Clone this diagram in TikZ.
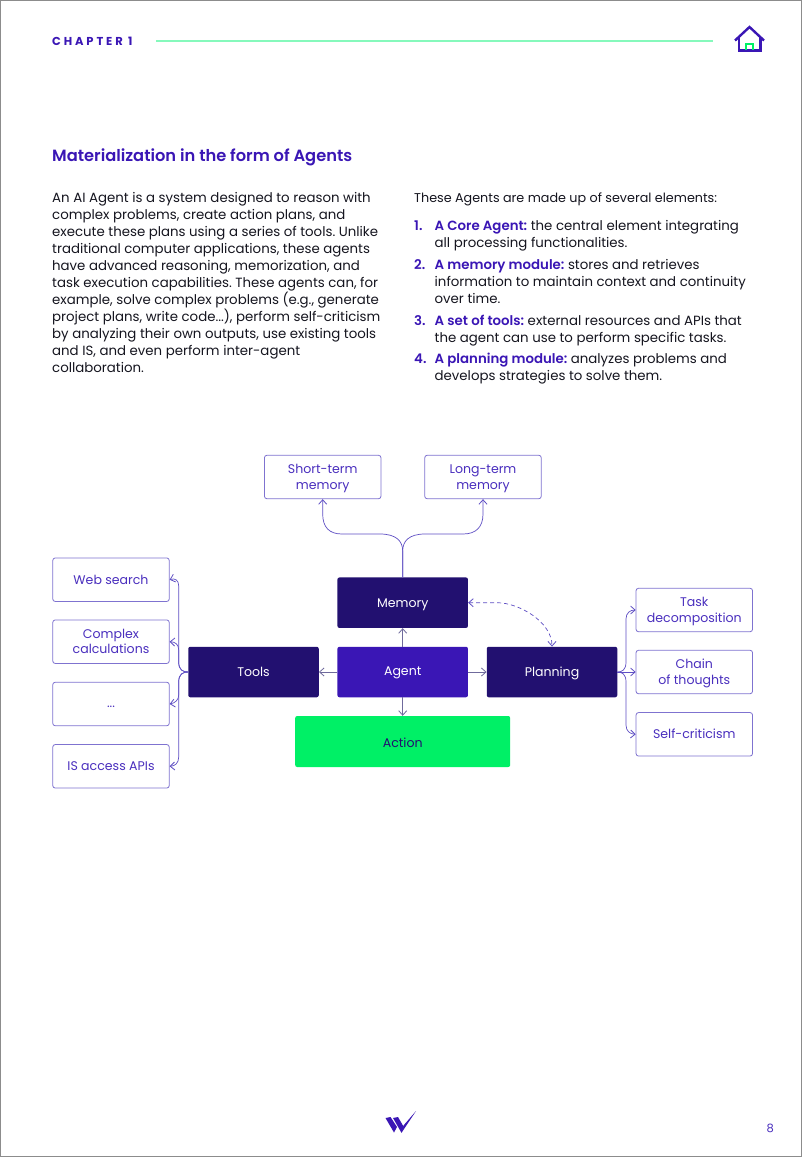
\documentclass[tikz,border=0pt]{standalone}
\usepackage{fontspec}
\setmainfont{Poppins}[BoldFont={Poppins SemiBold}]
\newfontfamily\chapfont{Poppins}[BoldFont={Poppins Bold},LetterSpace=25]
\usetikzlibrary{arrows.meta}
\frenchspacing
\definecolor{vio}{HTML}{3A16B5}
\definecolor{navy}{HTML}{221070}
\definecolor{grn}{HTML}{00F066}
\definecolor{lgrn}{HTML}{86F9BC}
\definecolor{lnk}{HTML}{5F4FC4}
\definecolor{lnkg}{HTML}{6F6A9C}
\definecolor{bord}{HTML}{7F73D0}
\definecolor{lbl}{HTML}{4A2FBE}
\definecolor{bodyc}{HTML}{15151F}
\tikzset{
  body/.style={anchor=base west,inner sep=0pt,text=bodyc,font=\fontsize{13.33}{17}\selectfont},
  num/.style={anchor=base west,inner sep=0pt,text=vio,font=\fontsize{13.33}{17}\selectfont\bfseries},
  lightbox/.style={draw=bord,line width=0.8pt,rounded corners=2.5pt,fill=white,text=lbl,align=center,font=\fontsize{12.55}{15.2}\selectfont,inner sep=0pt,minimum width=116.5pt,minimum height=43.5pt},
  darkbox/.style={fill=navy,rounded corners=2pt,text=white,align=center,font=\fontsize{12.55}{15.2}\selectfont,inner sep=0pt,minimum width=130.5pt,minimum height=50.5pt},
  link/.style={draw=lnk,line width=0.7pt},
  tip/.style={-{Straight Barb[length=4.5pt,width=8pt,line width=0.8pt]}},
}
\newcommand{\hl}[1]{\textcolor{vio}{\textbf{#1}}}
\newcommand{\lab}[2][-1.4pt]{\raisebox{#1}[\height][\depth]{\begin{tabular}{@{}c@{}}#2\end{tabular}}}
\begin{document}
\begin{tikzpicture}[x=1pt,y=-1pt]
\useasboundingbox (0,0) rectangle (802,1157);
\draw[draw=gray!90,line width=1.5pt,fill=white] (0.5,0.5) rectangle (801.5,1156.5);
% header
\node[anchor=base west,inner sep=0pt,text=vio,font=\fontsize{11.5}{13}\selectfont\chapfont\bfseries] (chap) at (52,45.5) {CHAPTER 1};
\coordinate (ruleL) at (156,41); \coordinate (ruleR) at (713,41);
\draw[lgrn,line width=1.1pt] (ruleL) -- (ruleR);
\draw[vio,line width=2.4pt,line join=miter] (735,40.5) -- (749.5,27) -- (764,40.5);
\draw[vio,line width=2.4pt] (738.7,36.5) -- (738.7,50.5) -- (760.3,50.5) -- (760.3,36.5);
\draw[grn,line width=2pt] (746.3,50) -- (746.3,43.5) -- (752.7,43.5) -- (752.7,50);
% heading
\node[anchor=base west,inner sep=0pt,text=vio,font=\fontsize{16.27}{20}\selectfont\bfseries] (head) at (52,161.5) {Materialization in the form of Agents};
% left column
\node[body] (l1) at (52,202) {An AI Agent is a system designed to reason with};
\node[body] (l2) at (52,219) {complex problems, create action plans, and};
\node[body] (l3) at (52,236) {execute these plans using a series of tools. Unlike};
\node[body] (l4) at (52,253) {traditional computer applications, these agents};
\node[body] (l5) at (52,270) {have advanced reasoning, memorization, and};
\node[body] (l6) at (52,287) {task execution capabilities. These agents can, for};
\node[body] (l7) at (52,304) {example, solve complex problems (e.g., generate};
\node[body] (l8) at (52,321) {project plans, write code...), perform self-criticism};
\node[body] (l9) at (52,338) {by analyzing their own outputs, use existing tools};
\node[body] (l10) at (52,355) {and IS, and even perform inter-agent};
\node[body] (l11) at (52,372) {collaboration.};
% right column
\node[body,font=\fontsize{12.75}{17}\selectfont] (r0) at (414,202) {These Agents are made up of several elements:};
\node[num] (n1) at (414,230.5) {1.};
\node[body] (r1) at (434.5,230.5) {\hl{A Core Agent:} the central element integrating};
\node[body] (r2) at (434.5,247.5) {all processing functionalities.};
\node[num] (n2) at (414,269) {2.};
\node[body] (r3) at (434.5,269) {\hl{A memory module:} stores and retrieves};
\node[body] (r4) at (434.5,286) {information to maintain context and continuity};
\node[body] (r5) at (434.5,303) {over time.};
\node[num] (n3) at (414,325) {3.};
\node[body] (r6) at (434.5,325) {\hl{A set of tools:} external resources and APIs that};
\node[body] (r7) at (434.5,342) {the agent can use to perform specific tasks.};
\node[num] (n4) at (414,363.5) {4.};
\node[body] (r8) at (434.5,363.5) {\hl{A planning module:} analyzes problems and};
\node[body] (r9) at (434.5,380.5) {develops strategies to solve them.};
% boxes
\node[lightbox] (short) at (322.7,477) {\lab{Short-term\\memory}};
\node[lightbox] (long) at (483,477) {\lab{Long-term\\memory}};
\node[darkbox] (memory) at (402.7,602.7) {\lab{Memory}};
\node[darkbox,fill=vio] (agent) at (402.7,672) {\lab[0pt]{Agent}};
\node[darkbox] (tools) at (253.5,672) {\lab{Tools}};
\node[darkbox] (planning) at (552,672) {\lab{Planning}};
\node[darkbox,fill=grn,text=navy,minimum width=215pt,minimum height=51pt] (action) at (402.7,741.5) {\lab[-2.5pt]{Action}};
\node[lightbox] (web) at (111,579.7) {\lab{Web search}};
\node[lightbox] (calc) at (111,641.7) {\lab{Complex\\calculations}};
\node[lightbox] (dots) at (111,704) {\lab[0pt]{...}};
\node[lightbox] (isapi) at (111,766.3) {\lab{IS access APIs}};
\node[lightbox] (task) at (694.3,610) {\lab{Task\\decomposition}};
\node[lightbox] (chain) at (694.3,672) {\lab{Chain\\of thoughts}};
\node[lightbox] (self) at (694.3,734.3) {\lab{Self-criticism}};
% connectors
\draw[link,tip] (memory.north) -- (402.7,551) .. controls (402.7,541) and (396,534) .. (380,534) -- (342,534) .. controls (329,534) and (322.7,527) .. (322.7,514) -- (short.south);
\draw[link,tip] (memory.north) -- (402.7,551) .. controls (402.7,541) and (409,534) .. (425,534) -- (463,534) .. controls (476,534) and (483,527) .. (483,514) -- (long.south);
\draw[link,draw=lnkg,tip] (agent.north) -- (memory.south);
\draw[link,draw=lnkg,tip] (agent.west) -- (tools.east);
\draw[link,draw=lnkg,tip] (agent.east) -- (planning.west);
\draw[link,draw=lnkg,tip] (agent.south) -- (action.north);
\draw[link,tip] (tools.west) .. controls (183,672) and (178.7,670) .. (178.7,662) -- (178.7,586) .. controls (178.7,580) and (175,578) .. (web.east);
\draw[link,tip] (tools.west) .. controls (183,672) and (178.7,670) .. (178.7,662) -- (178.7,650) .. controls (178.7,644) and (175,642) .. (calc.east);
\draw[link,tip] (tools.west) .. controls (183,672) and (178.7,674) .. (178.7,682) -- (178.7,695) .. controls (178.7,700) and (175,703) .. (dots.east);
\draw[link,tip] (tools.west) .. controls (183,672) and (178.7,674) .. (178.7,682) -- (178.7,757) .. controls (178.7,763) and (175,766) .. (isapi.east);
\draw[link,tip] (planning.east) .. controls (622,672) and (626,670) .. (626,662) -- (626,619) .. controls (626,613) and (630,610) .. (task.west);
\draw[link,tip] (planning.east) -- (chain.west);
\draw[link,tip] (planning.east) .. controls (622,672) and (626,674) .. (626,682) -- (626,725) .. controls (626,731) and (630,734) .. (self.west);
\draw[link,dashed,dash pattern=on 4pt off 3pt,{Straight Barb[length=4.5pt,width=8pt,line width=0.8pt]}-{Straight Barb[length=4.5pt,width=8pt,line width=0.8pt]}] (memory.east) -- (497,602.7) .. controls (519,602.7) and (552,622) .. (planning.north);
% logo
\fill[vio] (385.5,1118) -- (390.5,1117) -- (397,1127) -- (394,1132.5) -- cycle;
\fill[vio] (393,1118) -- (398,1117) -- (403.8,1127) -- (401.5,1132.8) -- cycle;
\fill[vio] (401.5,1132.8) -- (403.5,1125.5) -- (416,1111) -- cycle;
% page number
\node[anchor=base,inner sep=0pt,text=lbl,font=\fontsize{11.5}{13}\selectfont] (pg) at (770.3,1132.5) {8};
\end{tikzpicture}
\end{document}
